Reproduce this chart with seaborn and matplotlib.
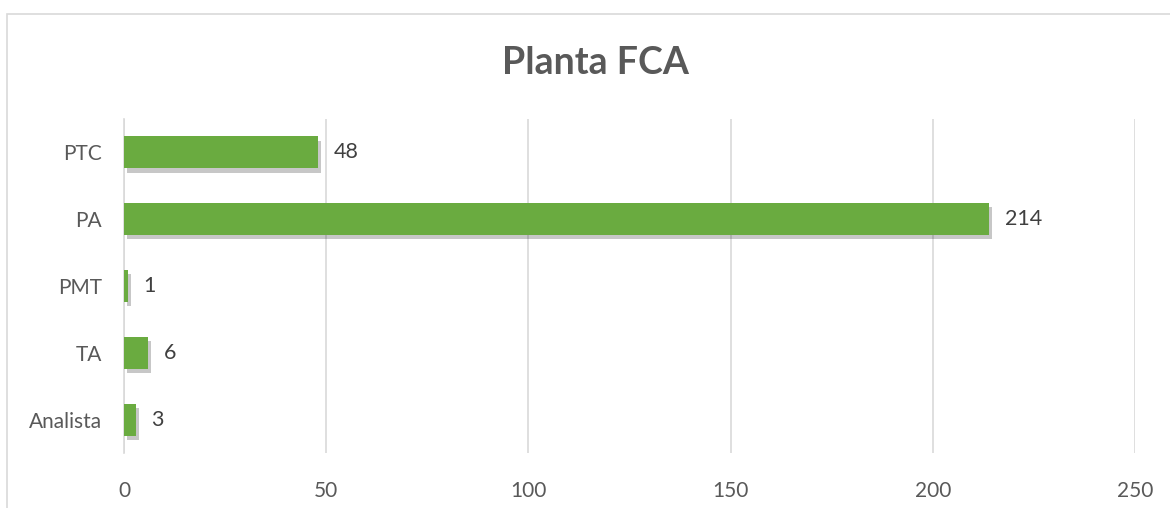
import matplotlib
matplotlib.use('Agg')
import matplotlib.pyplot as plt
import matplotlib.patheffects as pe
from matplotlib.patches import Rectangle
import seaborn as sns
import pandas as pd

# Data
categories = ['PTC', 'PA', 'PMT', 'TA', 'Analista']
values = [48, 214, 1, 6, 3]
x_ticks = [0, 50, 100, 150, 200, 250]

df = pd.DataFrame({'categoria': categories, 'valor': values})

sns.set_style('white')
plt.rcParams['font.family'] = ['Lato', 'DejaVu Sans']

fig = plt.figure(figsize=(11.7, 5.08), dpi=100)
ax = fig.add_axes([124 / 1170, 1 - 453 / 508, (1135 - 124) / 1170, (453 - 119) / 508])

# outer chart frame
fig.patches.append(Rectangle((7 / 1170, -0.1), 1.2, 1 - 14 / 508 + 0.1,
                             transform=fig.transFigure, fill=False,
                             edgecolor='#d9d9d9', linewidth=1.2))

sns.barplot(data=df, x='valor', y='categoria', order=categories, orient='h',
            color='#6aab40', saturation=1, width=0.48, ax=ax, zorder=3)

# soft drop shadow like the office chart style
shadow = [pe.SimplePatchShadow(offset=(2, -3), shadow_rgbFace='#000000', alpha=0.22), pe.Normal()]
for bar in ax.patches:
    bar.set_path_effects(shadow)
    bar.set_edgecolor('none')

for i, v in enumerate(values):
    ax.annotate(str(v), xy=(v, i), xytext=(11, 0), textcoords='offset points',
                va='center', ha='left', fontsize=15.5, color='#404040')

ax.set_xlim(0, 250)
ax.set_xticks(x_ticks)
ax.xaxis.grid(True, color='#d9d9d9', linewidth=1.2, zorder=0)
ax.set_axisbelow(True)
for side in ['top', 'right', 'bottom']:
    ax.spines[side].set_visible(False)
ax.spines['left'].set_color('#d9d9d9')
ax.spines['left'].set_linewidth(1.2)
ax.tick_params(axis='both', length=0, labelsize=15, labelcolor='#595959')
ax.tick_params(axis='x', pad=20)
ax.tick_params(axis='y', pad=16)
ax.set_xlabel('')
ax.set_ylabel('')

fig.text(595 / 1170, 1 - 63 / 508, 'Planta FCA', ha='center', va='center',
         fontsize=27, fontweight='bold', color='#595959')

fig.savefig('out.png', dpi=100, facecolor='white')
